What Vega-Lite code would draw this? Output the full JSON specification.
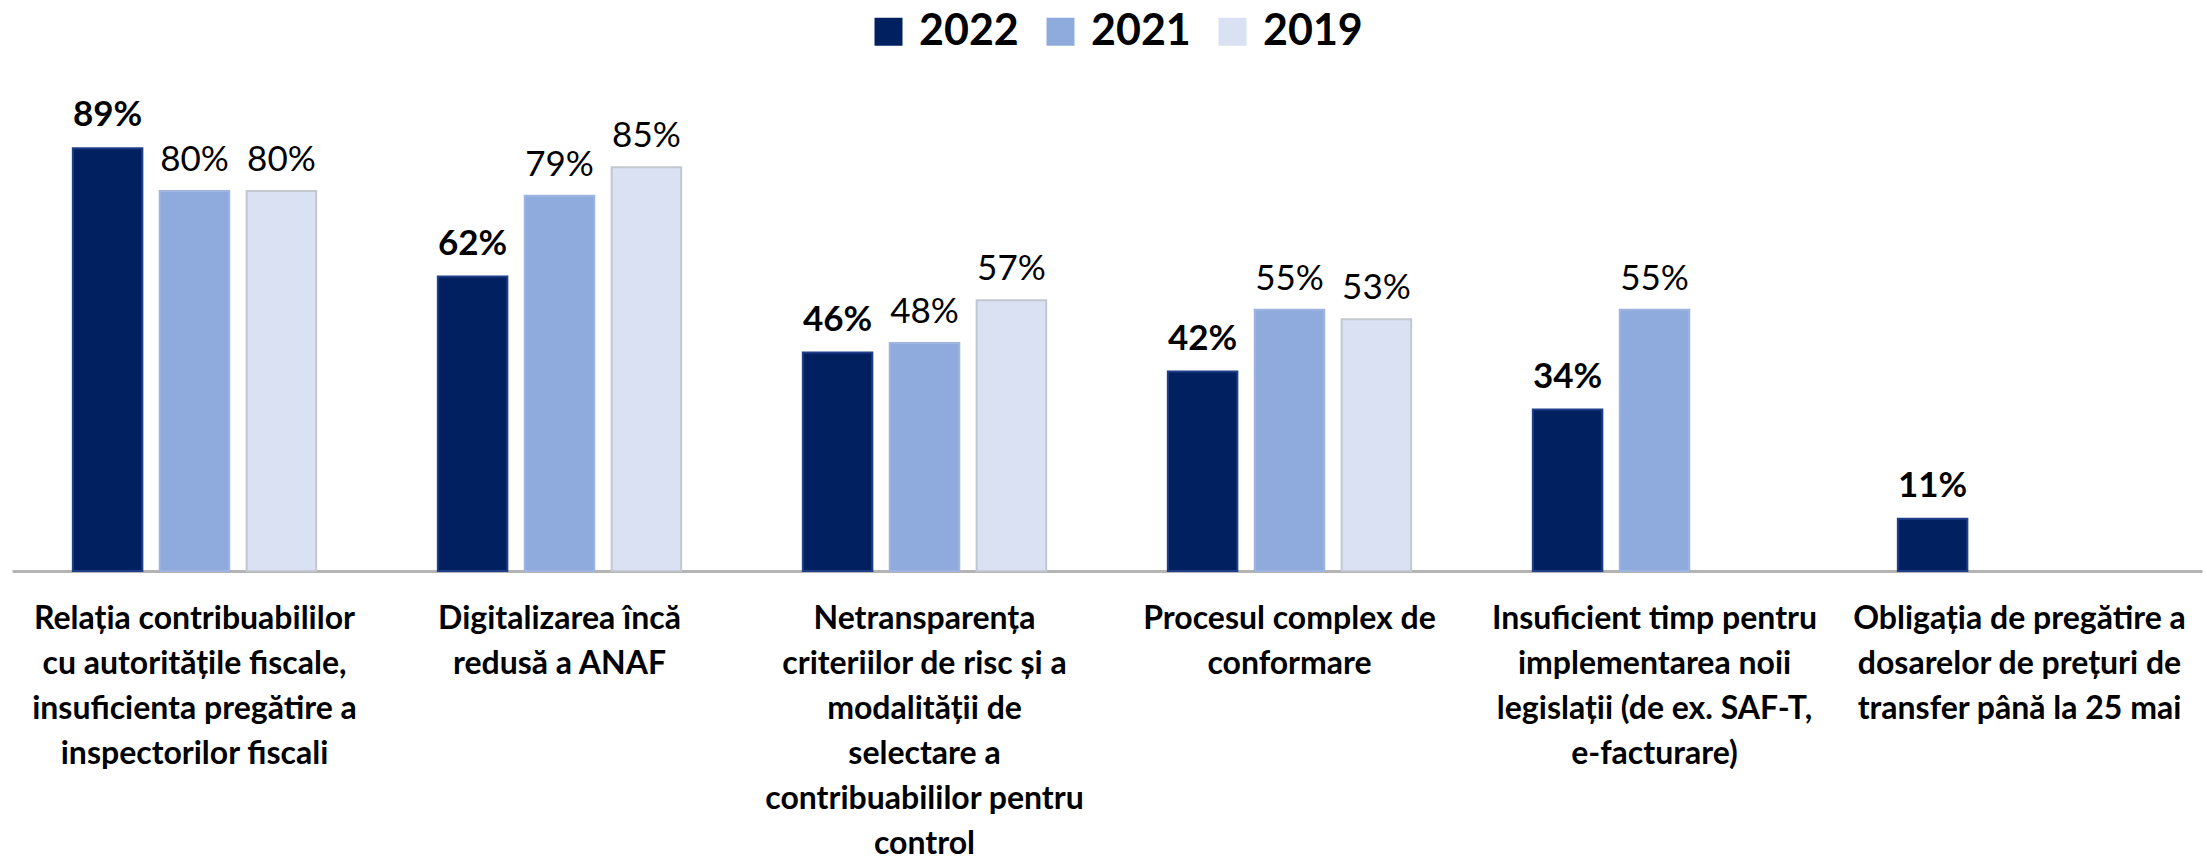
{
  "$schema": "https://vega.github.io/schema/vega-lite/v6.json",
  "width": 2190,
  "height": 475,
  "autosize": {"type": "none"},
  "padding": {"left": 12, "top": 96, "right": 5, "bottom": 291},
  "background": "white",
  "config": {
    "font": "Lato, sans-serif",
    "view": {"stroke": null}
  },
  "data": {
    "values": [
      {"cat": "Relația contribuabililor|cu autoritățile fiscale,|insuficienta pregătire a|inspectorilor fiscali", "year": "2022", "value": 0.89},
      {"cat": "Relația contribuabililor|cu autoritățile fiscale,|insuficienta pregătire a|inspectorilor fiscali", "year": "2021", "value": 0.80},
      {"cat": "Relația contribuabililor|cu autoritățile fiscale,|insuficienta pregătire a|inspectorilor fiscali", "year": "2019", "value": 0.80},
      {"cat": "Digitalizarea încă|redusă a ANAF", "year": "2022", "value": 0.62},
      {"cat": "Digitalizarea încă|redusă a ANAF", "year": "2021", "value": 0.79},
      {"cat": "Digitalizarea încă|redusă a ANAF", "year": "2019", "value": 0.85},
      {"cat": "Netransparența|criteriilor de risc și a|modalității de|selectare a|contribuabililor pentru|control", "year": "2022", "value": 0.46},
      {"cat": "Netransparența|criteriilor de risc și a|modalității de|selectare a|contribuabililor pentru|control", "year": "2021", "value": 0.48},
      {"cat": "Netransparența|criteriilor de risc și a|modalității de|selectare a|contribuabililor pentru|control", "year": "2019", "value": 0.57},
      {"cat": "Procesul complex de|conformare", "year": "2022", "value": 0.42},
      {"cat": "Procesul complex de|conformare", "year": "2021", "value": 0.55},
      {"cat": "Procesul complex de|conformare", "year": "2019", "value": 0.53},
      {"cat": "Insuficient timp pentru|implementarea noii|legislații (de ex. SAF-T,|e-facturare)", "year": "2022", "value": 0.34},
      {"cat": "Insuficient timp pentru|implementarea noii|legislații (de ex. SAF-T,|e-facturare)", "year": "2021", "value": 0.55},
      {"cat": "Obligația de pregătire a|dosarelor de prețuri de|transfer până la 25 mai", "year": "2022", "value": 0.11}
    ]
  },
  "encoding": {
    "x": {
      "field": "cat",
      "type": "nominal",
      "sort": null,
      "scale": {"paddingInner": 0, "paddingOuter": 0},
      "axis": {
        "title": null,
        "labelAngle": 0,
        "labelExpr": "split(datum.label, '|')",
        "labelFontSize": 32,
        "labelFontWeight": "bold",
        "labelColor": "#000000",
        "labelLineHeight": 45,
        "labelPadding": 32,
        "labelBaseline": "top",
        "labelLimit": 500,
        "labelOverlap": false,
        "ticks": false,
        "domainColor": "#b4b4b4",
        "domainWidth": 3
      }
    },
    "xOffset": {
      "field": "year",
      "type": "nominal",
      "scale": {"domain": ["2022", "2021", "2019"], "paddingInner": 0.2, "paddingOuter": 0.7}
    },
    "y": {
      "field": "value",
      "type": "quantitative",
      "scale": {"domain": [0, 1]},
      "axis": null
    }
  },
  "layer": [
    {
      "mark": {"type": "bar", "strokeWidth": 2},
      "encoding": {
        "color": {
          "field": "year",
          "type": "nominal",
          "scale": {"domain": ["2022", "2021", "2019"], "range": ["#002060", "#8faadc", "#d9e1f2"]},
          "legend": {
            "title": null,
            "orient": "none",
            "direction": "horizontal",
            "legendX": 855,
            "legendY": -86,
            "symbolType": "square",
            "symbolSize": 784,
            "symbolStrokeWidth": 0,
            "labelFontSize": 43,
            "labelFontWeight": "bold",
            "labelColor": "#000000",
            "labelOffset": 9,
            "columnPadding": 20
          }
        },
        "stroke": {
          "field": "year",
          "type": "nominal",
          "scale": {"domain": ["2022", "2021", "2019"], "range": ["#1f3f88", "#9db5e0", "#c3c7cf"]},
          "legend": null
        }
      }
    },
    {
      "transform": [{"filter": "datum.year == '2022'"}],
      "mark": {"type": "text", "baseline": "alphabetic", "dy": -22, "fontSize": 35, "fontWeight": "bold", "color": "#000000"},
      "encoding": {"text": {"field": "value", "type": "quantitative", "format": ".0%"}}
    },
    {
      "transform": [{"filter": "datum.year != '2022'"}],
      "mark": {"type": "text", "baseline": "alphabetic", "dy": -20, "fontSize": 35, "fontWeight": "normal", "color": "#000000"},
      "encoding": {"text": {"field": "value", "type": "quantitative", "format": ".0%"}}
    }
  ]
}
